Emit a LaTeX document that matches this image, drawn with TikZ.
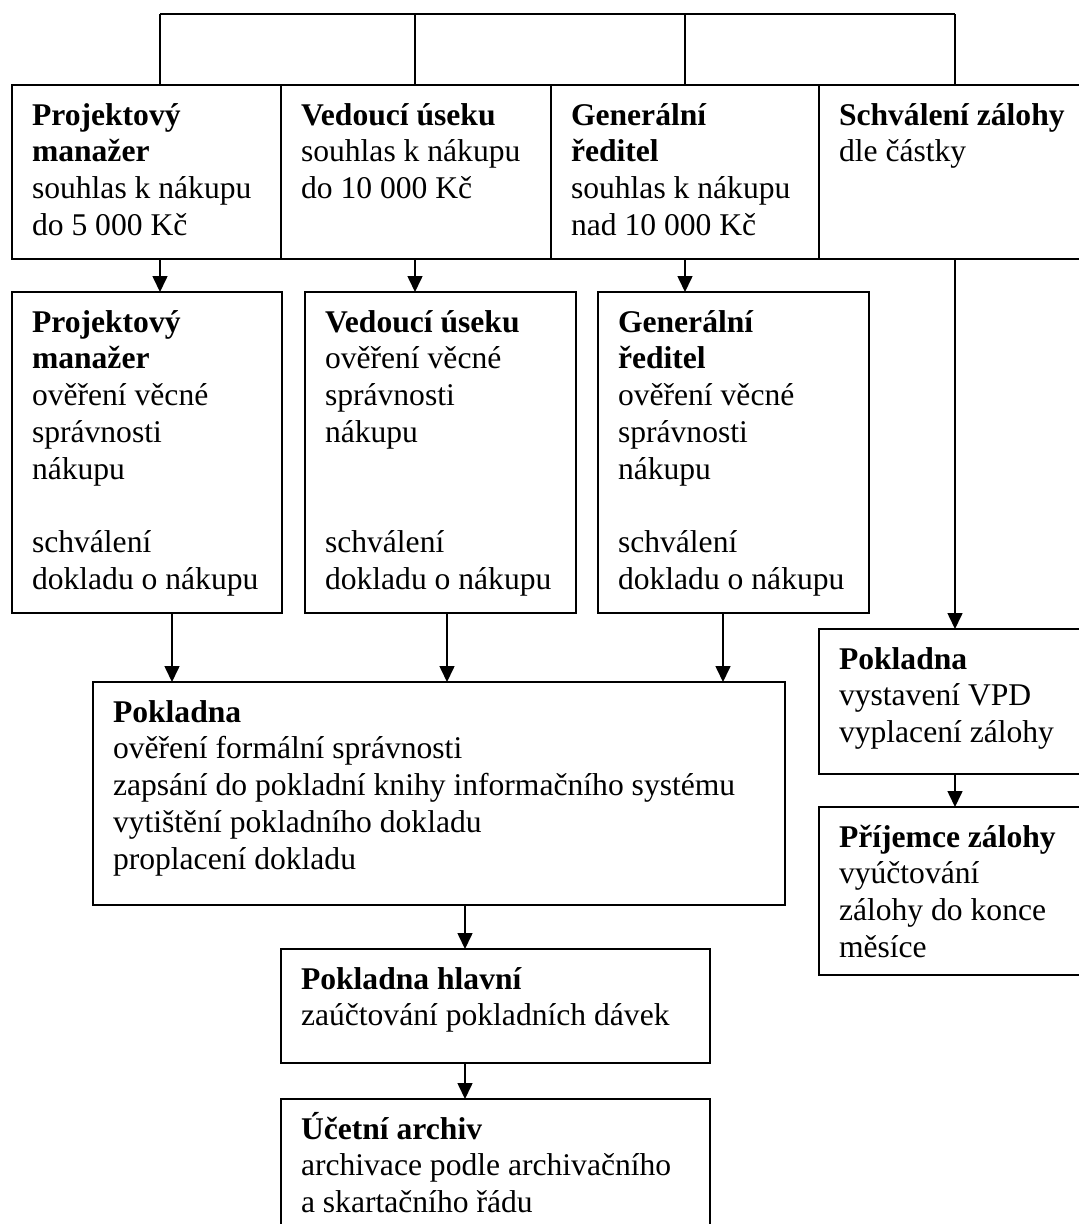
\documentclass[tikz,border=0pt]{standalone}
\usepackage{fontspec}
\setmainfont{Liberation Serif}
\usetikzlibrary{arrows.meta}

% A framed process box with its text set flush left from the top:
% #1 name, #2 left x, #3 top y (downwards), #4 width, #5 height, #6 text
\newcommand\procbox[6]{%
  \node[box, minimum width=#4pt, minimum height=#5pt] (#1) at (#2,-#3) {};
  \node[boxtext] (#1-t) at ([shift={(20,-10)}]#1.north west) {\rule{0pt}{30pt}#6};
}

\begin{document}
\begin{tikzpicture}[x=1pt,y=1pt,
  box/.style={draw, line width=1.6pt, inner sep=0pt, outer sep=0pt, anchor=north west},
  boxtext/.style={anchor=north west, inner sep=0pt, outer sep=0pt, align=left,
    font=\fontsize{31.6}{36.8}\selectfont},
  link/.style={line width=1.6pt},
  flow/.style={line width=1.6pt, -{Triangle[length=16pt,width=15pt]}},
]
\useasboundingbox (0,0) rectangle (1079,-1224);
\clip (0,0) rectangle (1079,-1224);

% column positions of the connectors
\coordinate (k1) at (160,-14);
\coordinate (k2) at (415,-14);
\coordinate (k3) at (685,-14);
\coordinate (k4) at (955,-14);
\coordinate (m1) at (172,-650);
\coordinate (m2) at (447,-650);
\coordinate (m3) at (723,-650);
\coordinate (m4) at (465,-930);

% approval row
\procbox{T1}{12}{85}{269}{174}{\textbf{Projektový}\\\textbf{manažer}\\souhlas k nákupu\\do 5~000 Kč}
\procbox{T2}{281}{85}{270}{174}{\textbf{Vedoucí úseku}\\souhlas k nákupu\\do 10~000 Kč}
\procbox{T3}{551}{85}{268}{174}{\textbf{Generální}\\\textbf{ředitel}\\souhlas k nákupu\\nad 10~000 Kč}
\procbox{T4}{819}{85}{280}{174}{\textbf{Schválení zálohy}\\dle částky}

% verification row
\procbox{A}{12}{292}{270}{321}{\textbf{Projektový}\\\textbf{manažer}\\ověření věcné\\správnosti\\nákupu\\[36.8pt]schválení\\dokladu o nákupu}
\procbox{B}{305}{292}{271}{321}{\textbf{Vedoucí úseku}\\ověření věcné\\správnosti\\nákupu\\[73.6pt]schválení\\dokladu o nákupu}
\procbox{C}{598}{292}{271}{321}{\textbf{Generální}\\\textbf{ředitel}\\ověření věcné\\správnosti\\nákupu\\[36.8pt]schválení\\dokladu o nákupu}

% cash desk and advances
\procbox{P}{93}{682}{692}{223}{\textbf{Pokladna}\\ověření formální správnosti\\zapsání do pokladní knihy informačního systému\\vytištění pokladního dokladu\\proplacení dokladu}
\procbox{Pr}{819}{629}{280}{145}{\textbf{Pokladna}\\vystavení VPD\\vyplacení zálohy}
\procbox{Rc}{819}{807}{280}{168}{\textbf{Příjemce zálohy}\\vyúčtování\\zálohy do konce\\měsíce}

% accounting and archive
\procbox{H}{281}{949}{429}{114}{\textbf{Pokladna hlavní}\\zaúčtování pokladních dávek}
\procbox{U}{281}{1099}{429}{160}{\textbf{Účetní archiv}\\archivace podle archivačního\\a skartačního řádu}

% top distribution bar
\draw[link] (k1) -- (k4);
\draw[link] (k1) -- (T1.north -| k1);
\draw[link] (k2) -- (T2.north -| k2);
\draw[link] (k3) -- (T3.north -| k3);
\draw[link] (k4) -- (T4.north -| k4);

% flow arrows
\draw[flow] (T1.south -| k1) -- (A.north -| k1);
\draw[flow] (T2.south -| k2) -- (B.north -| k2);
\draw[flow] (T3.south -| k3) -- (C.north -| k3);
\draw[flow] (T4.south -| k4) -- (Pr.north -| k4);
\draw[flow] (A.south -| m1) -- (P.north -| m1);
\draw[flow] (B.south -| m2) -- (P.north -| m2);
\draw[flow] (C.south -| m3) -- (P.north -| m3);
\draw[flow] (Pr.south -| k4) -- (Rc.north -| k4);
\draw[flow] (P.south -| m4) -- (H.north -| m4);
\draw[flow] (H.south -| m4) -- (U.north -| m4);
\end{tikzpicture}
\end{document}
